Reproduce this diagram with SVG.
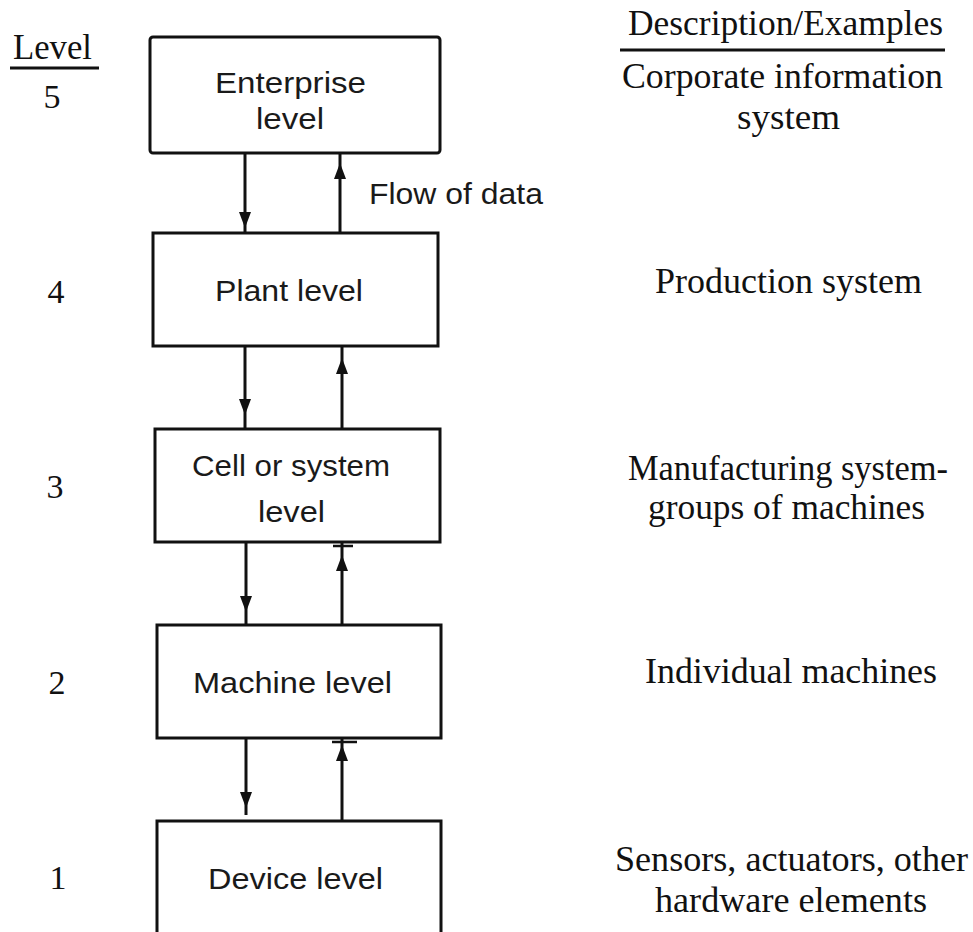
<svg xmlns="http://www.w3.org/2000/svg" width="973" height="932" viewBox="0 0 973 932">
  <style>
    .box { fill: #ffffff; stroke: #111111; stroke-width: 3; }
    .flow { fill: none; stroke: #111111; stroke-width: 3; marker-mid: url(#head); }
    .tick { stroke: #111111; stroke-width: 2.5; }
    .rule { stroke: #111111; stroke-width: 3; }
    .lbl { font-family: "Liberation Sans", Arial, sans-serif; font-size: 30px; fill: #1a1a1a; }
    .desc { font-family: "Liberation Serif", "Times New Roman", serif; font-size: 35px; fill: #111111; }
    .num { font-family: "Liberation Serif", "Times New Roman", serif; font-size: 34px; fill: #111111; text-anchor: middle; }
  </style>
  <defs>
    <marker id="head" viewBox="0 0 16 12" refX="16" refY="6" markerWidth="16" markerHeight="12" markerUnits="userSpaceOnUse" orient="auto">
      <path d="M0,0 L16,6 L0,12 z" fill="#111111"/>
    </marker>
  </defs>

  <rect width="973" height="932" fill="#ffffff"/>

  <!-- column headings -->
  <g id="heading-level">
    <text class="desc" x="13" y="59" textLength="79" lengthAdjust="spacingAndGlyphs">Level</text>
    <line class="rule" x1="10" y1="68" x2="99" y2="68"/>
  </g>
  <g id="heading-description">
    <text class="desc" x="628" y="35" textLength="315" lengthAdjust="spacingAndGlyphs">Description/Examples</text>
    <line class="rule" x1="620" y1="50" x2="945" y2="50"/>
  </g>

  <!-- level numbers -->
  <g id="numbers">
    <text class="num" x="52" y="108">5</text>
    <text class="num" x="56" y="303">4</text>
    <text class="num" x="55" y="498">3</text>
    <text class="num" x="57" y="694">2</text>
    <text class="num" x="58" y="889">1</text>
  </g>

  <!-- connectors between levels -->
  <g id="connectors">
    <path class="flow" d="M245,153 V228 V233"/>
    <path class="flow" d="M340,233 V163 V153"/>
    <path class="flow" d="M245,346 V415 V429"/>
    <path class="flow" d="M342,429 V358 V346"/>
    <path class="flow" d="M246,542 V612 V625"/>
    <path class="flow" d="M342,625 V555 V542"/>
    <line class="tick" x1="333" y1="546" x2="353" y2="546"/>
    <path class="flow" d="M246,738 V808 V815"/>
    <path class="flow" d="M342,821 V745 V738"/>
    <line class="tick" x1="332" y1="742" x2="357" y2="742"/>
  </g>
  <text id="flow-label" class="lbl" x="369" y="204" textLength="174" lengthAdjust="spacingAndGlyphs">Flow of data</text>

  <!-- level boxes -->
  <g id="enterprise">
    <rect class="box" x="150" y="37" width="290" height="116" rx="3"/>
    <text class="lbl" x="215" y="93" textLength="151" lengthAdjust="spacingAndGlyphs">Enterprise</text>
    <text class="lbl" x="256" y="129" textLength="68" lengthAdjust="spacingAndGlyphs">level</text>
  </g>
  <g id="plant">
    <rect class="box" x="153" y="233" width="285" height="113"/>
    <text class="lbl" x="215" y="301" textLength="148" lengthAdjust="spacingAndGlyphs">Plant level</text>
  </g>
  <g id="cell">
    <rect class="box" x="155" y="429" width="285" height="113"/>
    <text class="lbl" x="192" y="476" textLength="198" lengthAdjust="spacingAndGlyphs">Cell or system</text>
    <text class="lbl" x="258" y="522" textLength="67" lengthAdjust="spacingAndGlyphs">level</text>
  </g>
  <g id="machine">
    <rect class="box" x="157" y="625" width="284" height="113"/>
    <text class="lbl" x="193" y="693" textLength="199" lengthAdjust="spacingAndGlyphs">Machine level</text>
  </g>
  <g id="device">
    <rect class="box" x="157" y="821" width="284" height="130"/>
    <text class="lbl" x="208" y="889" textLength="175" lengthAdjust="spacingAndGlyphs">Device level</text>
  </g>

  <!-- descriptions -->
  <g id="descriptions">
    <text class="desc" x="622" y="88" textLength="321" lengthAdjust="spacingAndGlyphs">Corporate information</text>
    <text class="desc" x="737" y="129" textLength="103" lengthAdjust="spacingAndGlyphs">system</text>
    <text class="desc" x="655" y="293" textLength="267" lengthAdjust="spacingAndGlyphs">Production system</text>
    <text class="desc" x="628" y="480" textLength="320" lengthAdjust="spacingAndGlyphs">Manufacturing system-</text>
    <text class="desc" x="648" y="519" textLength="277" lengthAdjust="spacingAndGlyphs">groups of machines</text>
    <text class="desc" x="645" y="683" textLength="292" lengthAdjust="spacingAndGlyphs">Individual machines</text>
    <text class="desc" x="615" y="871" textLength="353" lengthAdjust="spacingAndGlyphs">Sensors, actuators, other</text>
    <text class="desc" x="655" y="912" textLength="272" lengthAdjust="spacingAndGlyphs">hardware elements</text>
  </g>
</svg>
